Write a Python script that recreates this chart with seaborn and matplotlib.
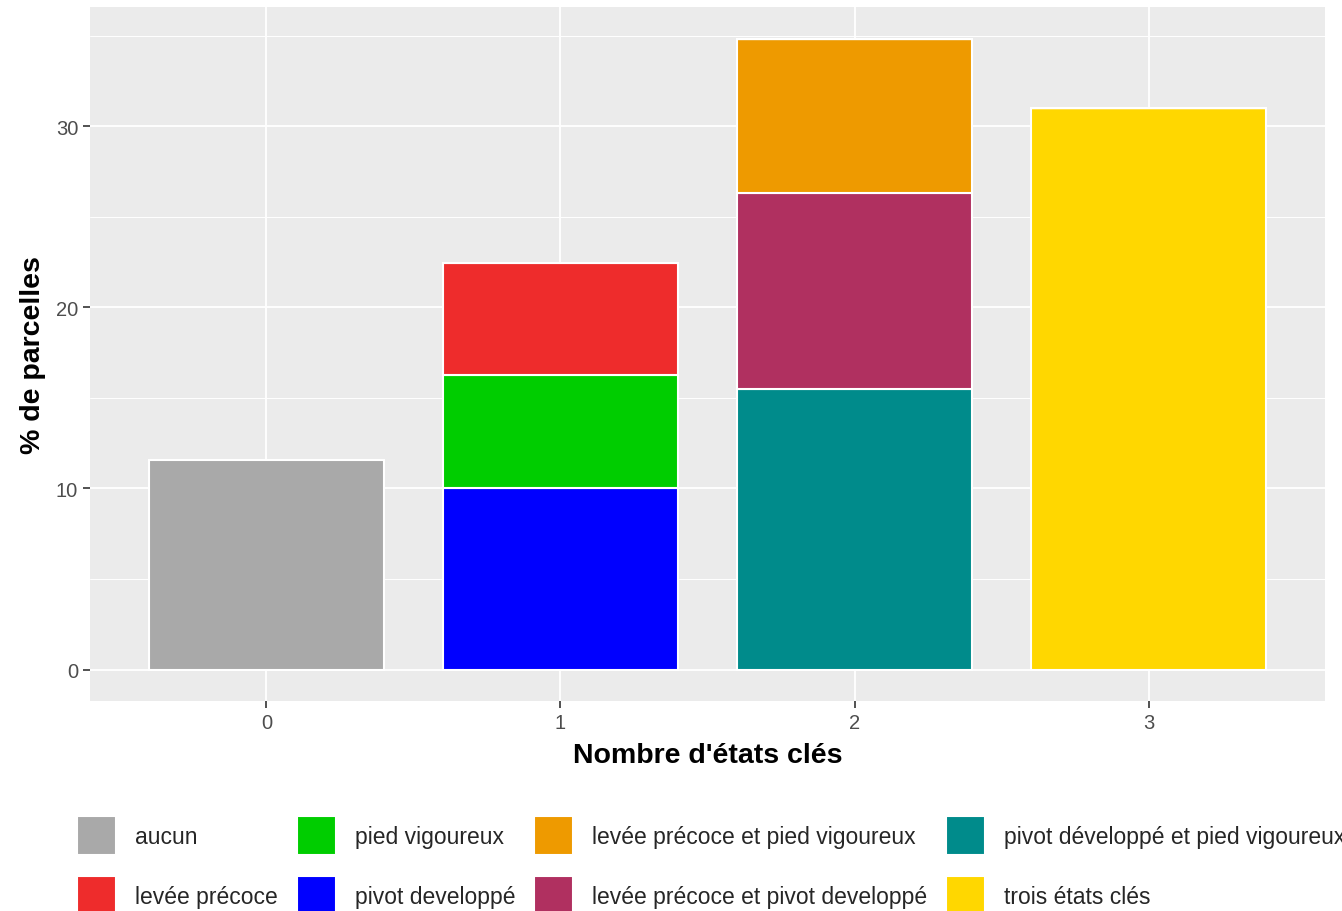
import matplotlib
matplotlib.use("Agg")
import matplotlib.pyplot as plt
import seaborn as sns
import pandas as pd
from matplotlib.ticker import MultipleLocator

# ---- data ----
n_states = [0, 1, 1, 1, 2, 2, 2, 3]
states = ["aucun", "levée précoce", "pied vigoureux", "pivot developpé",
          "levée précoce et pied vigoureux", "levée précoce et pivot developpé",
          "pivot développé et pied vigoureux", "trois états clés"]
values = [11.6, 6.2, 6.25, 10.0, 8.5, 10.85, 15.5, 31.0]
colors = ["#A9A9A9", "#EE2C2C", "#00CD00", "#0000FF",
          "#EE9A00", "#B03060", "#008B8B", "#FFD700"]
x_ticks = [0, 1, 2, 3]

df = pd.DataFrame({"n": n_states, "state": states, "value": values})

sns.set_theme(style="darkgrid")
plt.rcParams["font.family"] = ["Liberation Sans", "DejaVu Sans"]

fig = plt.figure(figsize=(13.42, 9.12), dpi=100)
ax = fig.add_axes([90/1342, 1-702/912, (1325-90)/1342, (702-8)/912])
ax.set_facecolor("#EBEBEB")

sns.histplot(data=df, x="n", weights="value", hue="state", hue_order=states,
             palette=dict(zip(states, colors)), multiple="stack", discrete=True,
             shrink=0.8, alpha=1, edgecolor="white", linewidth=1.5, ax=ax)

ax.set_xlim(-0.6, 3.6)
ax.set_ylim(-1.74, 36.6)
ax.set_xticks(x_ticks)
ax.set_xticklabels([str(v) for v in x_ticks])
ax.yaxis.set_major_locator(MultipleLocator(10))
ax.yaxis.set_minor_locator(MultipleLocator(5))
ax.grid(which="major", color="white", linewidth=1.3)
ax.grid(which="minor", axis="y", color="white", linewidth=0.7)
ax.set_axisbelow(True)
for s in ax.spines.values():
    s.set_visible(False)
ax.tick_params(axis="both", which="major", length=5, width=1.2, color="#333333",
               labelsize=14.5, labelcolor="#4D4D4D", pad=3.5, direction="out",
               bottom=True, left=True)
ax.tick_params(axis="y", which="minor", length=0)
ax.set_xlabel("Nombre d'états clés", fontsize=20.5, fontweight="bold", color="black", labelpad=7)
ax.set_ylabel("% de parcelles", fontsize=20.5, fontweight="bold", color="black", labelpad=7)

sns.move_legend(ax, "upper left", bbox_to_anchor=(77/1342, 1-817/912),
                bbox_transform=fig.transFigure, ncol=4, frameon=False, title=None,
                fontsize=16.5, handlelength=1.7, handleheight=2.24,
                handletextpad=0.83, columnspacing=0.83, labelspacing=0.92,
                borderaxespad=0, borderpad=0)
leg = ax.get_legend()
for h in leg.legend_handles:
    h.set_edgecolor("white")

fig.savefig("out.png", dpi=100, facecolor="white")
